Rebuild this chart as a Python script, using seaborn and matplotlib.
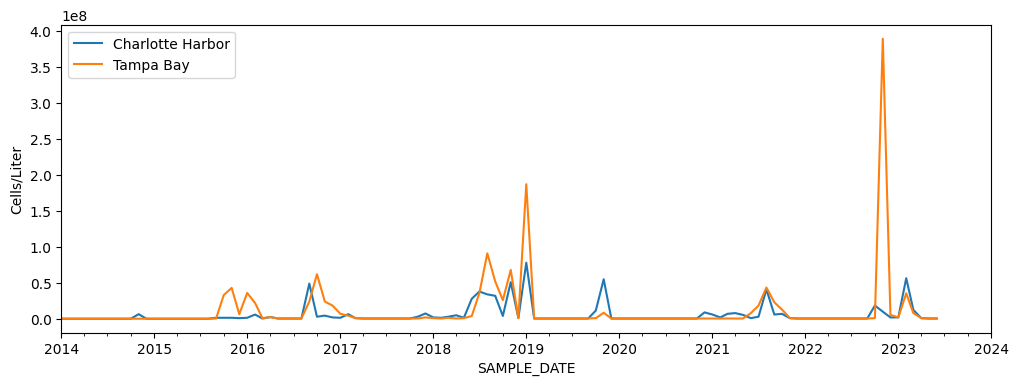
import matplotlib
matplotlib.use('Agg')
import pandas as pd
import matplotlib.pyplot as plt
import matplotlib.dates as mdates
import seaborn as sns

# monthly mean abundance, millions of cells per liter (2014-01 .. 2023-06)
charlotte_harbor = [
    0.2, 0.2, 0.2, 0.2, 0.2, 0.2, 0.2, 0.2, 0.2, 0.2, 6.5, 0.2,   # 2014
    0.2, 0.2, 0.2, 0.2, 0.2, 0.2, 0.2, 0.2, 1.5, 1.5, 1.5, 1.0,   # 2015
    1.5, 6.0, 0.5, 2.5, 0.5, 0.5, 0.5, 0.5, 49, 3, 4.5, 2,        # 2016
    1.5, 6.5, 1, 0.5, 0.5, 0.5, 0.5, 0.5, 0.5, 0.5, 3, 7.5,       # 2017
    2, 1.5, 3, 5, 1.5, 28, 38, 34, 32, 4, 51, 1,                  # 2018
    78, 0.5, 0.5, 0.5, 0.5, 0.5, 0.5, 0.5, 0.5, 11.5, 55, 0.5,    # 2019
    0.5, 0.5, 0.5, 0.5, 0.5, 0.5, 0.5, 0.5, 0.5, 0.5, 0.5, 9,     # 2020
    6, 2, 7, 8, 5.5, 1, 3, 41, 6, 7, 1, 0.5,                      # 2021
    0.5, 0.5, 0.5, 0.5, 0.5, 0.5, 0.5, 0.5, 0.5, 18.5, 10, 2,     # 2022
    2, 56.5, 12.5, 1, 0.5, 0.5,                                   # 2023
]
tampa_bay = [
    0.2, 0.2, 0.2, 0.2, 0.2, 0.2, 0.2, 0.2, 0.2, 0.2, 0.2, 0.2,   # 2014
    0.2, 0.2, 0.2, 0.2, 0.2, 0.2, 0.2, 0.2, 0.5, 33, 43, 6.5,     # 2015
    36, 22, 1, 2.5, 0.5, 0.5, 0.5, 0.5, 24, 62, 24, 18.5,         # 2016
    7, 4.5, 1, 0.5, 0.5, 0.5, 0.5, 0.5, 0.5, 0.5, 0.5, 2,         # 2017
    1, 0.5, 1.5, 0.5, 1, 4, 36, 91, 52, 26, 68, 1,                # 2018
    187, 0.5, 0.5, 0.5, 0.5, 0.5, 0.5, 0.5, 0.5, 1, 8.5, 0.5,     # 2019
    0.5, 0.5, 0.5, 0.5, 0.5, 0.5, 0.5, 0.5, 0.5, 0.5, 0.5, 0.5,   # 2020
    0.5, 0.5, 0.5, 0.5, 0.5, 8, 18.5, 43.5, 23, 13, 1, 0.5,       # 2021
    0.5, 0.5, 0.5, 0.5, 0.5, 0.5, 0.5, 0.5, 0.5, 1, 389, 5.5,     # 2022
    2, 35.5, 8, 1, 0.5, 0.5,                                      # 2023
]
regions = ["Charlotte Harbor", "Tampa Bay"]

dates = pd.date_range("2014-01-01", periods=len(charlotte_harbor), freq="MS")
df = pd.concat([
    pd.DataFrame({"SAMPLE_DATE": dates, "cells": [v * 1e6 for v in charlotte_harbor], "region": regions[0]}),
    pd.DataFrame({"SAMPLE_DATE": dates, "cells": [v * 1e6 for v in tampa_bay], "region": regions[1]}),
], ignore_index=True)

fig, ax = plt.subplots(figsize=(12, 4))
sns.lineplot(data=df, x="SAMPLE_DATE", y="cells", hue="region", hue_order=regions,
             palette=["#1f77b4", "#ff7f0e"], linewidth=1.5, ax=ax)

ax.set_xlim(pd.Timestamp("2014-01-01"), pd.Timestamp("2024-01-01"))
ax.xaxis.set_major_locator(mdates.YearLocator())
ax.xaxis.set_major_formatter(mdates.DateFormatter("%Y"))
ax.xaxis.set_minor_locator(mdates.MonthLocator(bymonth=[1, 4, 7, 10]))
ax.set_xlabel("SAMPLE_DATE")
ax.set_ylabel("Cells/Liter")
sns.move_legend(ax, "upper left", title=None)

plt.savefig("out.png", dpi=100, bbox_inches="tight")
